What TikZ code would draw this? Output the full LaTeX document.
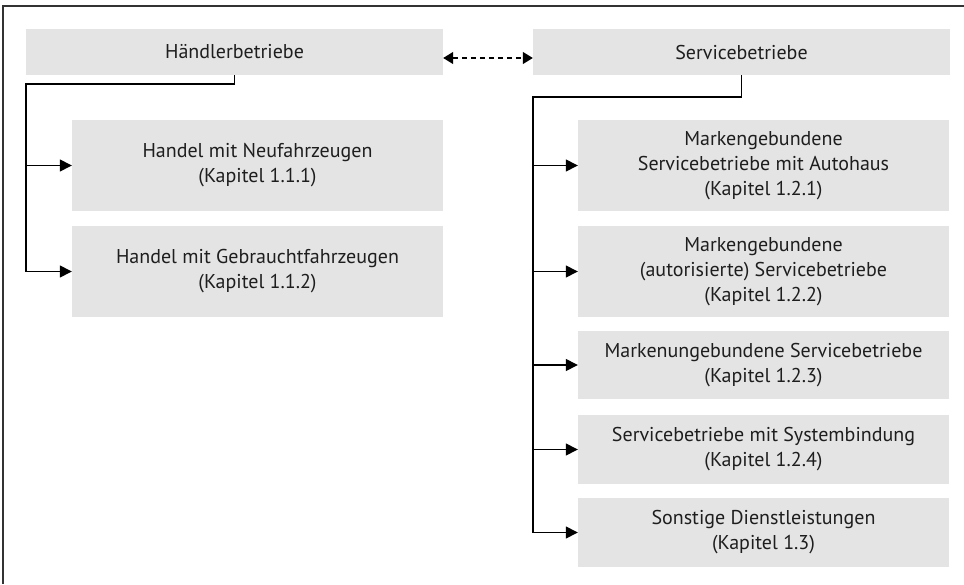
\documentclass[tikz,border=0pt]{standalone}
\usepackage{fontspec}
\setmainfont{PT Sans}
\usetikzlibrary{arrows.meta}
\definecolor{boxgray}{HTML}{E4E4E4}
\definecolor{txtgray}{HTML}{1E1E1E}
\tikzset{
    box/.style={fill=boxgray, inner sep=0pt, align=center, text=txtgray,
        font=\fontsize{20}{25}\selectfont},
    line/.style={line width=1.4pt, black},
    tip/.style={-{Triangle[length=12pt, width=12pt]}}
}
\begin{document}
\begin{tikzpicture}[x=1pt, y=-1pt]
    \useasboundingbox (0,0) rectangle (964,584);
    % frame
    \draw[line width=2pt, black!80] (3,584) -- (3,6) -- (964,6);

    \node[box, minimum width=417pt, minimum height=46pt] (haendler) at (234.5,52) {H\"andlerbetriebe};
    \node[box, minimum width=417pt, minimum height=46pt] (service) at (741.5,52) {Servicebetriebe};

    \node[box, minimum width=371pt, minimum height=91pt] (neu) at (257.5,165.5) {Handel mit Neufahrzeugen\\(Kapitel 1.1.1)};
    \node[box, minimum width=371pt, minimum height=91pt] (gebraucht) at (257.5,271.5) {Handel mit Gebrauchtfahrzeugen\\(Kapitel 1.1.2)};

    \foreach \i/\y/\h/\txt in {
        1/165.5/91/{Markengebundene\\Servicebetriebe mit Autohaus\\(Kapitel 1.2.1)},
        2/271.5/91/{Markengebundene\\(autorisierte) Servicebetriebe\\(Kapitel 1.2.2)},
        3/365/68/{Markenungebundene Servicebetriebe\\(Kapitel 1.2.3)},
        4/449.5/69/{Servicebetriebe mit Systembindung\\(Kapitel 1.2.4)},
        5/532.5/69/{Sonstige Dienstleistungen\\(Kapitel 1.3)}} {
        \node[box, minimum width=371pt, minimum height=\h pt] (s\i) at (763.5,\y) {\txt};
    }

    % dashed link
    \draw[line width=1.2pt, dash pattern=on 5pt off 4pt,
        {Triangle[length=10pt, width=12pt]}-{Triangle[length=10pt, width=12pt]}]
        ([yshift=-6pt]haendler.east) -- ([yshift=-6pt]service.east -| service.west);

    % left tree
    \coordinate (hk) at (26,84);
    \draw[line] (haendler.south) |- (hk) -- (hk |- gebraucht.west);
    \foreach \n in {neu, gebraucht} {
        \draw[line, tip] (hk |- \n.west) -- (\n.west);
    }

    % right tree
    \coordinate (sk) at (533,97);
    \draw[line] (service.south) |- (sk) -- (sk |- s5.west);
    \foreach \i in {1,...,5} {
        \draw[line, tip] (sk |- s\i.west) -- (s\i.west);
    }
\end{tikzpicture}
\end{document}
